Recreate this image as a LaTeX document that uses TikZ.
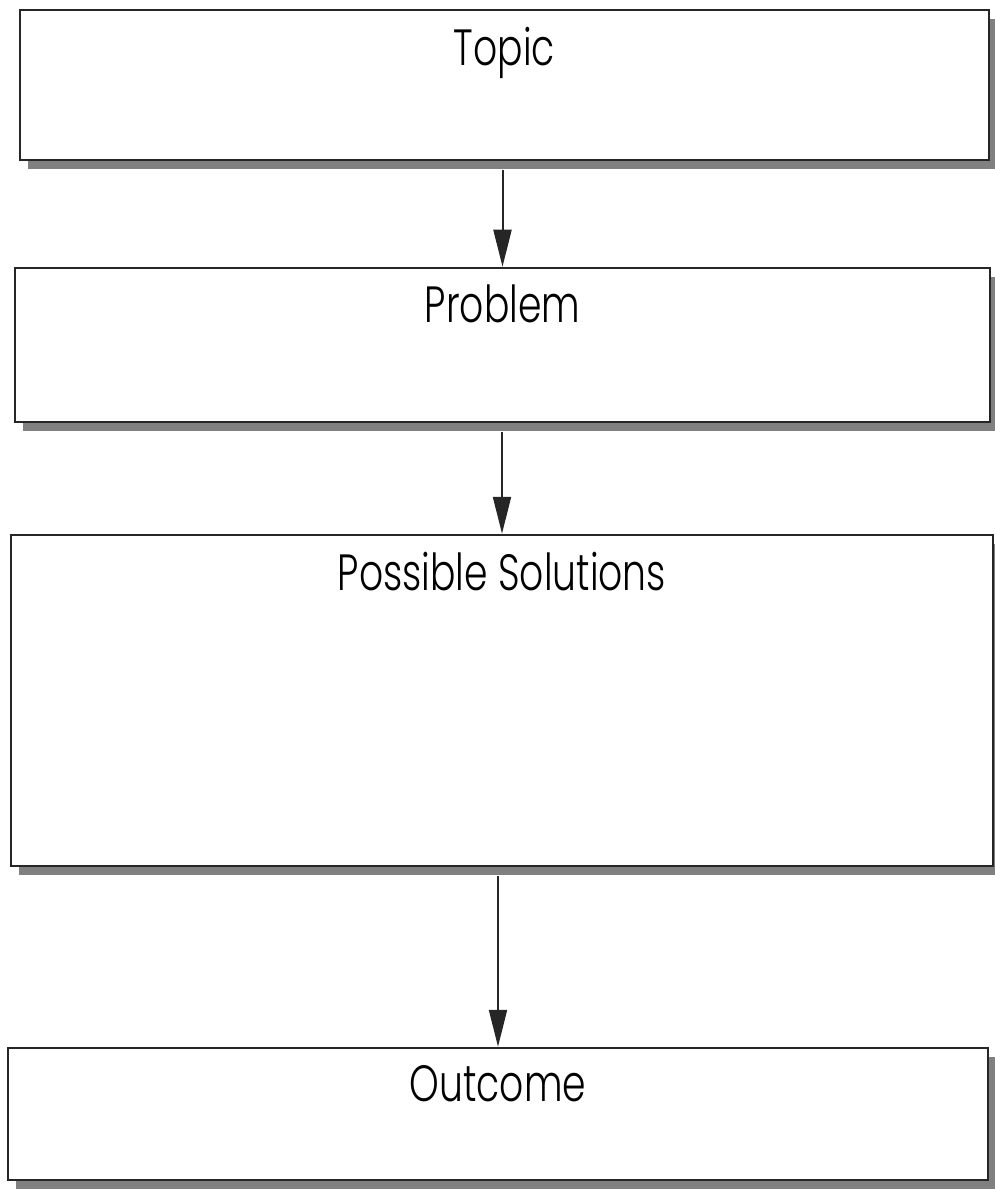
\documentclass[tikz,border=0pt]{standalone}
\usepackage{fontspec}
\setmainfont{Poppins Light}[FakeStretch=0.74]
\usetikzlibrary{arrows.meta,shadows}
\tikzset{
  stagebox/.style={draw=black!85, line width=0.05cm, fill=white, inner sep=0pt,
    drop shadow={shadow xshift=0.16cm, shadow yshift=-0.18cm, fill=black!50, opacity=1}},
  stagetext/.style={anchor=north, inner sep=0pt, yshift=-0.36cm, font=\fontsize{29}{34}\selectfont},
  flow/.style={draw=black!85, line width=0.04cm, -{Triangle[length=0.74cm,width=0.36cm]}}
}
\begin{document}
\begin{tikzpicture}
                \useasboundingbox (0,0) rectangle (19.9,-23.82);
                
                % Drawing box Topic
                \node [stagebox, minimum width=19.38cm, minimum height=3.0cm,
                       label={[stagetext]north:Topic}] (topic) at (10.09,-1.70) {};%
                
                % Drawing box Problem
                \node [stagebox, minimum width=19.5cm, minimum height=3.08cm,
                       label={[stagetext]north:Problem}] (problem) at (10.05,-6.90) {};%
                
                % Drawing box Possible Solutions
                \node [stagebox, minimum width=19.64cm, minimum height=6.62cm,
                       label={[stagetext]north:Possible Solutions}] (solutions) at (10.04,-14.01) {};%
                
                % Drawing box Outcome
                \node [stagebox, minimum width=19.6cm, minimum height=2.64cm,
                       label={[stagetext]north:Outcome}] (outcome) at (9.96,-22.28) {};%
                
                % Drawing arrows between boxes
                \draw [flow] (problem.north |- topic.south) ++(0,-0.18) -- (problem.north);%
                \draw [flow] (solutions.north |- problem.south) ++(0,-0.18) -- (solutions.north);%
                \draw [flow] (outcome.north |- solutions.south) ++(0,-0.18) -- (outcome.north);%
\end{tikzpicture}
\end{document}
